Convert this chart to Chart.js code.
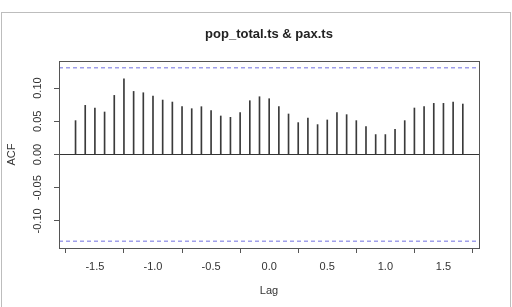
<!DOCTYPE html>
<html>
<head>
<meta charset="utf-8">
<script src="https://cdn.jsdelivr.net/npm/chart.js@4.4.1/dist/chart.umd.min.js"></script>
<style>
  html, body { margin: 0; padding: 0; background: #fff; }
</style>
</head>
<body>
<canvas id="acf" width="512" height="307"></canvas>
<script>
// lags -20/12 .. 20/12 (monthly series)
const lags = [];
for (let k = -20; k <= 20; k++) lags.push(k / 12);

// ccf values
const acfValues = [
  0.051, 0.074, 0.070, 0.064, 0.089, 0.114, 0.095, 0.093, 0.088, 0.082,
  0.079, 0.072, 0.069, 0.072, 0.066, 0.058, 0.056, 0.063, 0.081, 0.087,
  0.084, 0.072, 0.061, 0.048, 0.055, 0.045, 0.052, 0.063, 0.060, 0.051,
  0.042, 0.030, 0.030, 0.038, 0.051, 0.070, 0.072, 0.077, 0.077, 0.079,
  0.076
];

// confidence bound (blue dashed lines)
const ciBound = 0.1305;

const xTicks = [-1.5, -1.0, -0.5, 0.0, 0.5, 1.0, 1.5];
const yTicks = [-0.10, -0.05, 0.00, 0.05, 0.10];

const xMin = -1.809, xMax = 1.806;
const yMin = -0.1408, yMax = 0.1408;

const font = 'Liberation Sans, Arial, sans-serif';

// R style extras: outer frame, box, title, rotated y labels, axis titles
const rStyle = {
  id: 'rStyle',
  beforeDraw(chart) {
    const c = chart.ctx;
    c.save();
    c.fillStyle = '#fff';
    c.fillRect(0, 0, chart.width, chart.height);
    c.strokeStyle = '#bdbdbd';
    c.lineWidth = 1;
    c.strokeRect(1.5, 12.5, 509, 310);
    c.restore();
  },
  afterDraw(chart) {
    const c = chart.ctx;
    const a = chart.chartArea;
    const y = chart.scales.y;
    c.save();
    c.strokeStyle = '#555';
    c.lineWidth = 1;
    c.strokeRect(Math.round(a.left) + 0.5, Math.round(a.top) + 0.5,
      Math.round(a.right - a.left), Math.round(a.bottom - a.top));

    c.fillStyle = '#222';
    c.textAlign = 'center';
    c.textBaseline = 'middle';
    c.font = 'bold 13px ' + font;
    c.fillText('pop_total.ts & pax.ts', (a.left + a.right) / 2, 34);

    c.font = '11px ' + font;
    c.fillStyle = '#333';
    c.fillText('Lag', (a.left + a.right) / 2, 291);

    yTicks.forEach(v => {
      c.save();
      c.translate(38, y.getPixelForValue(v));
      c.rotate(-Math.PI / 2);
      c.fillText(v.toFixed(2), 0, 0);
      c.restore();
    });

    c.save();
    c.translate(12, (a.top + a.bottom) / 2);
    c.rotate(-Math.PI / 2);
    c.fillText('ACF', 0, 0);
    c.restore();
    c.restore();
  }
};

new Chart(document.getElementById('acf'), {
  type: 'bar',
  data: {
    datasets: [
      {
        type: 'bar',
        data: lags.map((l, i) => ({ x: l, y: acfValues[i] })),
        backgroundColor: '#3a3a3a',
        barThickness: 1,
        grouped: false,
        order: 2
      },
      {
        type: 'line',
        data: [{ x: xMin, y: 0 }, { x: xMax, y: 0 }],
        borderColor: '#333',
        borderWidth: 1,
        pointRadius: 0,
        order: 1
      },
      {
        type: 'line',
        data: [{ x: xMin, y: ciBound }, { x: xMax, y: ciBound }],
        borderColor: '#6f6fe0',
        borderWidth: 1,
        borderDash: [4, 3],
        pointRadius: 0,
        order: 1
      },
      {
        type: 'line',
        data: [{ x: xMin, y: -ciBound }, { x: xMax, y: -ciBound }],
        borderColor: '#6f6fe0',
        borderWidth: 1,
        borderDash: [4, 3],
        pointRadius: 0,
        order: 1
      }
    ]
  },
  options: {
    responsive: false,
    animation: false,
    layout: { padding: { left: 0, top: 61, right: 33, bottom: 0 } },
    plugins: {
      legend: { display: false },
      title: { display: false },
      tooltip: { enabled: false }
    },
    scales: {
      x: {
        type: 'linear',
        min: xMin,
        max: xMax,
        offset: false,
        afterBuildTicks: s => { s.ticks = xTicks.map(v => ({ value: v })); },
        afterFit: s => { s.height = 59; },
        grid: { drawOnChartArea: false, tickLength: 5, color: '#555' },
        border: { display: false },
        ticks: {
          padding: 7,
          color: '#333',
          maxRotation: 0,
          font: { family: font, size: 11 },
          callback: v => v.toFixed(1)
        }
      },
      y: {
        min: yMin,
        max: yMax,
        afterBuildTicks: s => { s.ticks = yTicks.map(v => ({ value: v })); },
        afterFit: s => { s.width = 59; },
        grid: { drawOnChartArea: false, tickLength: 5, color: '#555' },
        border: { display: false },
        ticks: {
          color: 'rgba(0,0,0,0)',
          font: { family: font, size: 11 }
        }
      }
    }
  },
  plugins: [rStyle]
});
</script>
</body>
</html>
